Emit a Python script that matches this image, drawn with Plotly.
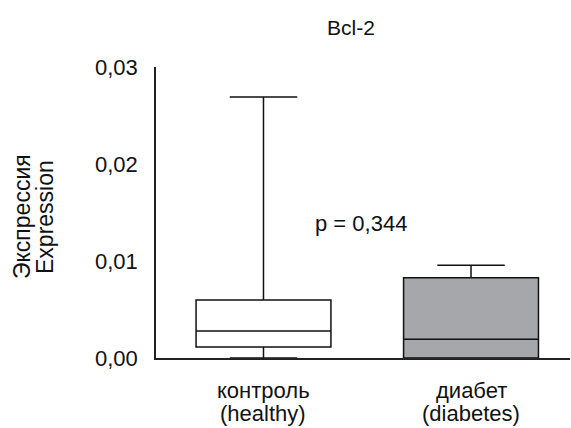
import plotly.graph_objects as go

categories_ru = ["контроль", "диабет"]
categories_en = ["(healthy)", "(diabetes)"]
positions = [0, 1]
q1 = [0.00113, 0.0]
median = [0.00278, 0.00193]
q3 = [0.00598, 0.00828]
lowerfence = [0.0, 0.0]
upperfence = [0.0269, 0.00955]
fills = ["white", "#a6a7aa"]
ytickvals = [0, 0.01, 0.02, 0.03]

FONT = "Liberation Sans, Arial, sans-serif"
L, R, T, B = 156, 1, 67, 70
W, H = 571, 428
PW = W - L - R
PH = H - T - B


def px(x):
    return (x - L) / PW


def py(y):
    return (H - B - y) / PH


def txt(text, x, y, size, xref="paper", angle=0):
    return dict(text=text, x=x, y=y, xref=xref, yref="paper", showarrow=False,
                xanchor="center", yanchor="middle", textangle=angle,
                font=dict(size=size, family=FONT, color="#111111"))


fig = go.Figure()
for i in range(2):
    fig.add_trace(go.Box(
        x=[positions[i]], q1=[q1[i]], median=[median[i]], q3=[q3[i]],
        lowerfence=[lowerfence[i]], upperfence=[upperfence[i]],
        width=0.65, whiskerwidth=0.5, fillcolor=fills[i],
        line=dict(color="#111111", width=1.5), boxpoints=False,
        showlegend=False, hoverinfo="skip"))

annotations = [
    txt("Bcl-2", px(351), py(27), 21),
    txt("p = 0,344", 0.47, py(223), 22, xref="x"),
    txt("Экспрессия", px(22), py(217), 23, angle=-90),
    txt("Expression", px(45), py(217), 23, angle=-90),
]
for i in range(2):
    annotations.append(txt(categories_ru[i], positions[i], py(390), 22, xref="x"))
    annotations.append(txt(categories_en[i], positions[i], py(413), 22, xref="x"))

fig.update_layout(
    width=W, height=H,
    margin=dict(l=L, r=R, t=T, b=B, autoexpand=False),
    paper_bgcolor="white", plot_bgcolor="white",
    separators=",.",
    font=dict(family=FONT, color="#111111"),
    xaxis=dict(range=[-0.518, 1.477], tickvals=positions, showticklabels=False,
               showline=True, linecolor="#222222", linewidth=1.5,
               showgrid=False, zeroline=False, ticks="", automargin=False),
    yaxis=dict(range=[0, 0.03], tickvals=ytickvals, tickformat=".2f",
               showline=True, linecolor="#222222", linewidth=1.5,
               showgrid=False, zeroline=False, ticks="", automargin=False,
               ticklabelstandoff=12,
               tickfont=dict(size=22, family=FONT, color="#111111")),
    annotations=annotations,
)

fig.write_html("out.html", config={"displayModeBar": False},
               post_script="document.body.style.margin='0';")
